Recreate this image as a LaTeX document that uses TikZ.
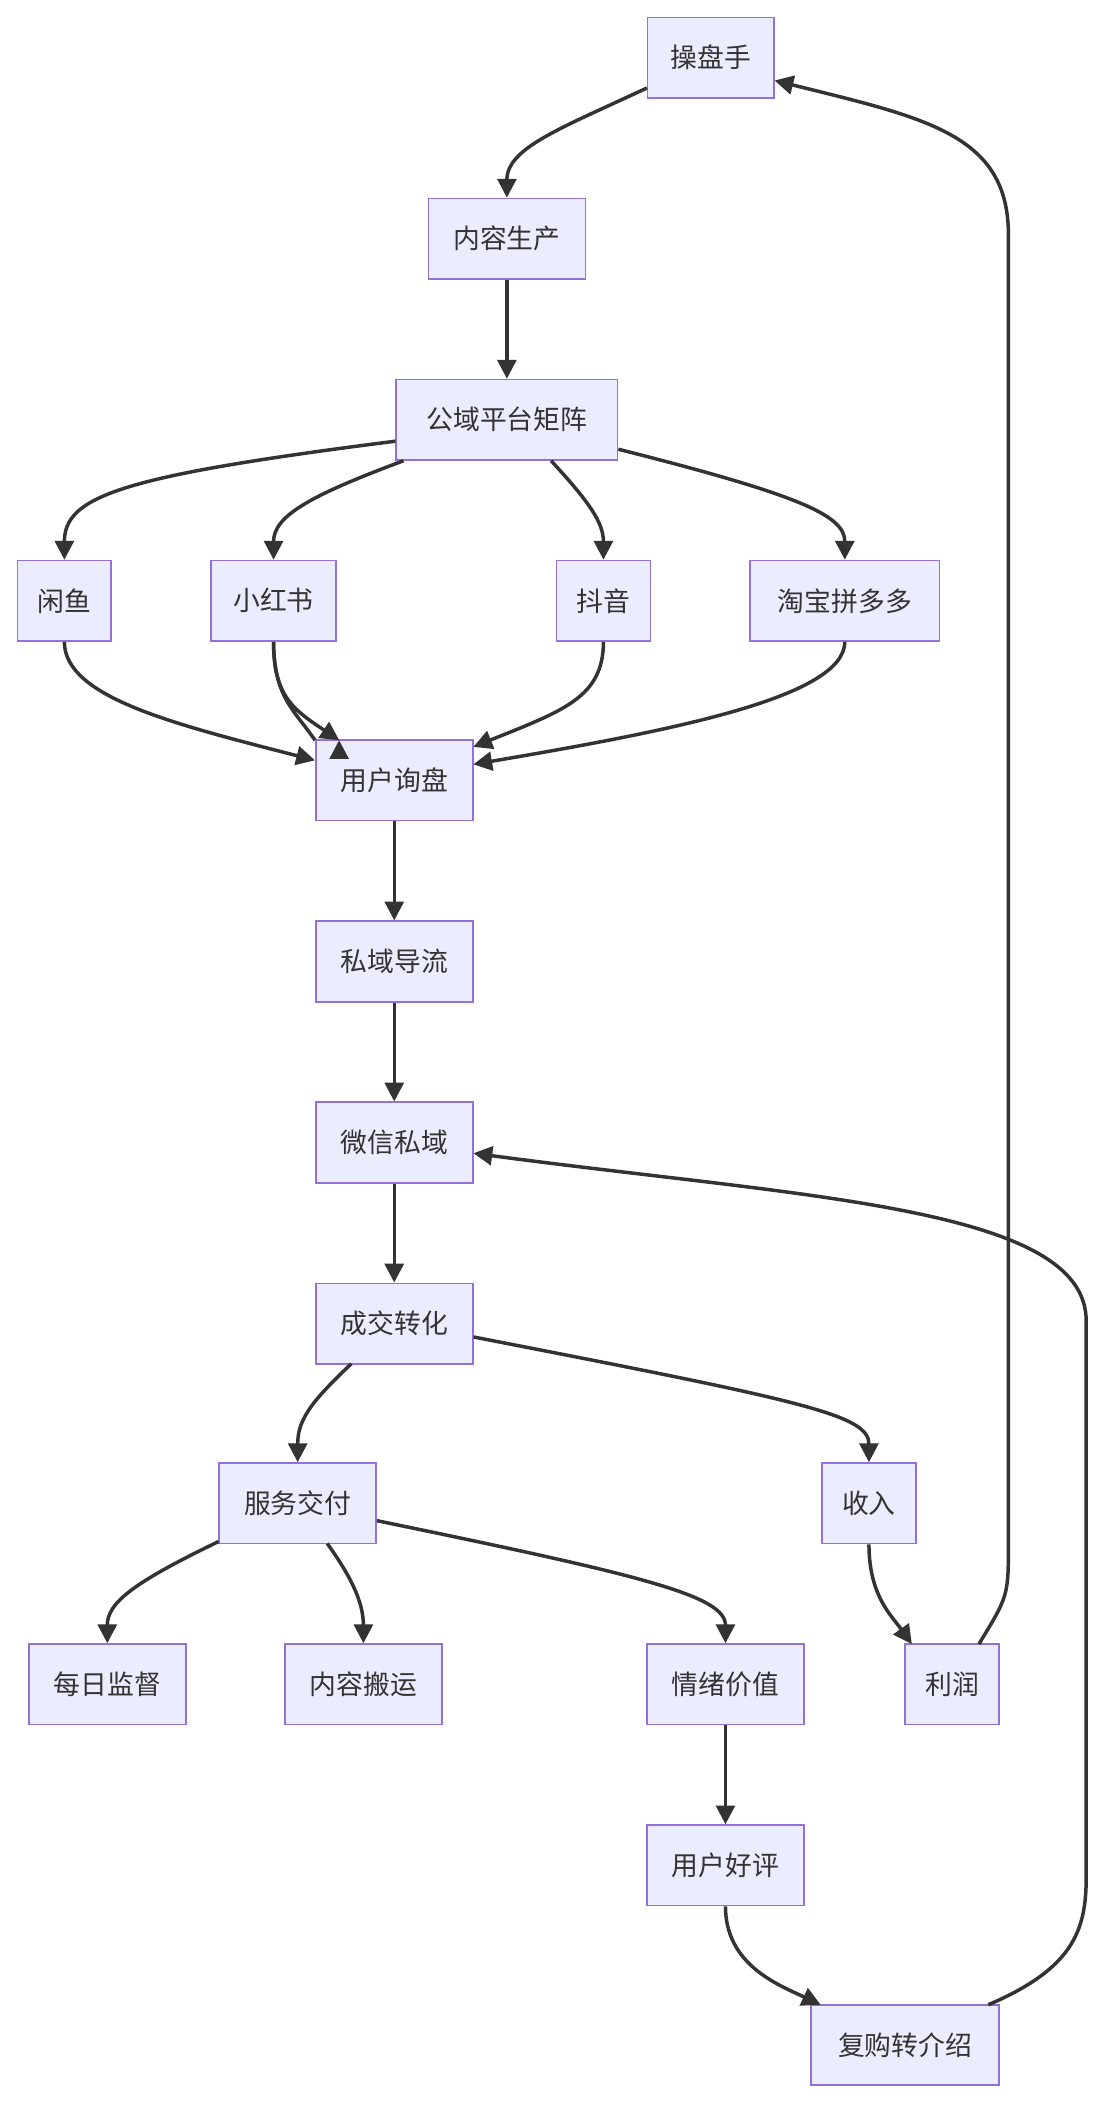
\documentclass[tikz,border=0pt]{standalone}
\usepackage{fontspec}
\setmainfont{Noto Sans CJK SC}
\usetikzlibrary{arrows.meta}
\begin{document}
\begin{tikzpicture}[x=1pt,y=-1pt,
 box/.style={draw=violet!60!blue!50!white,draw={rgb,255:red,147;green,112;blue,219},fill={rgb,255:red,236;green,236;blue,255},line width=1.2pt,minimum height=60pt,inner xsep=0pt,font=\fontsize{20}{24}\selectfont,text={rgb,255:red,51;green,51;blue,51}},
 ar/.style={draw={rgb,255:red,51;green,51;blue,51},line width=2.6pt,-{Triangle[length=14pt,width=14pt]}}]
\useasboundingbox (0,0) rectangle (826,1572);
\node[box,minimum width=94pt] (a) at (530,43) {操盘手};
\node[box,minimum width=117pt] (b) at (378,178) {内容生产};
\node[box,minimum width=165pt] (c) at (378,313) {公域平台矩阵};
\node[box,minimum width=70pt] (d1) at (48,448) {闲鱼};
\node[box,minimum width=93pt] (d2) at (204,448) {小红书};
\node[box,minimum width=70pt] (d3) at (450,448) {抖音};
\node[box,minimum width=141pt] (d4) at (630,448) {淘宝拼多多};
\node[box,minimum width=117pt] (e) at (294,582) {用户询盘};
\node[box,minimum width=117pt] (f) at (294,717) {私域导流};
\node[box,minimum width=117pt] (g) at (294,852) {微信私域};
\node[box,minimum width=117pt] (h) at (294,987) {成交转化};
\node[box,minimum width=117pt] (i) at (222,1121) {服务交付};
\node[box,minimum width=70pt] (j) at (648,1121) {收入};
\node[box,minimum width=117pt] (k1) at (80,1256) {每日监督};
\node[box,minimum width=117pt] (k2) at (271,1256) {内容搬运};
\node[box,minimum width=117pt] (k3) at (541,1256) {情绪价值};
\node[box,minimum width=70pt] (l) at (710,1256) {利润};
\node[box,minimum width=117pt] (m) at (541,1391) {用户好评};
\node[box,minimum width=140pt] (n) at (675,1525) {复购转介绍};
\path[ar] (a.south west) ++(0,-8) .. controls (420,95) and (378,110) .. (b.north);
\path[ar] (b) -- (c);
\path[ar] (c.west) ++(0,16) .. controls (90,355) and (48,370) .. (d1.north);
\path[ar] (c.south west) ++(6,0) .. controls (230,370) and (204,385) .. (d2.north);
\path[ar] (c.south) ++(33,0) .. controls (440,375) and (450,390) .. (d3.north);
\path[ar] (c.east) ++(0,22) .. controls (600,370) and (630,385) .. (d4.north);
\path[ar] (d1.south) .. controls (48,520) and (130,540) .. (e.west|-0,567);
\path[ar] (d2.south) .. controls (204,520) and (220,530) .. (e.north west|-0,552) ++(18,0);
\path[ar] (d2.south) .. controls (204,520) and (220,530) .. (253,552);
\path[ar] (d3.south) .. controls (450,520) and (420,530) .. (353,557);
\path[ar] (d4.south) .. controls (630,520) and (500,545) .. (353,570);
\path[ar] (e) -- (f);
\path[ar] (f) -- (g);
\path[ar] (g) -- (h);
\path[ar] (262,1017) .. controls (230,1047) and (222,1060) .. (i.north);
\path[ar] (h.east) ++(0,10) .. controls (600,1045) and (648,1055) .. (j.north);
\path[ar] (i.south west) ++(0,-2) .. controls (100,1180) and (80,1195) .. (k1.north);
\path[ar] (244,1151) .. controls (262,1176) and (271,1195) .. (k2.north);
\path[ar] (i.east) ++(0,13) .. controls (480,1175) and (541,1190) .. (k3.north);
\path[ar] (j.south) .. controls (648,1190) and (665,1205) .. (680,1226);
\path[ar] (k3) -- (m);
\path[ar] (m.south) .. controls (541,1465) and (580,1480) .. (612,1495);
\path[ar] (730,1226) .. controls (752,1190) .. (752,1150) -- (752,175) .. controls (752,100) and (690,88) .. (a.east|-0,60);
\path[ar] (737,1495) .. controls (800,1468) and (810,1440) .. (810,1400) -- (810,985) .. controls (810,900) and (600,893) .. (g.east|-0,860);
\end{tikzpicture}
\end{document}
